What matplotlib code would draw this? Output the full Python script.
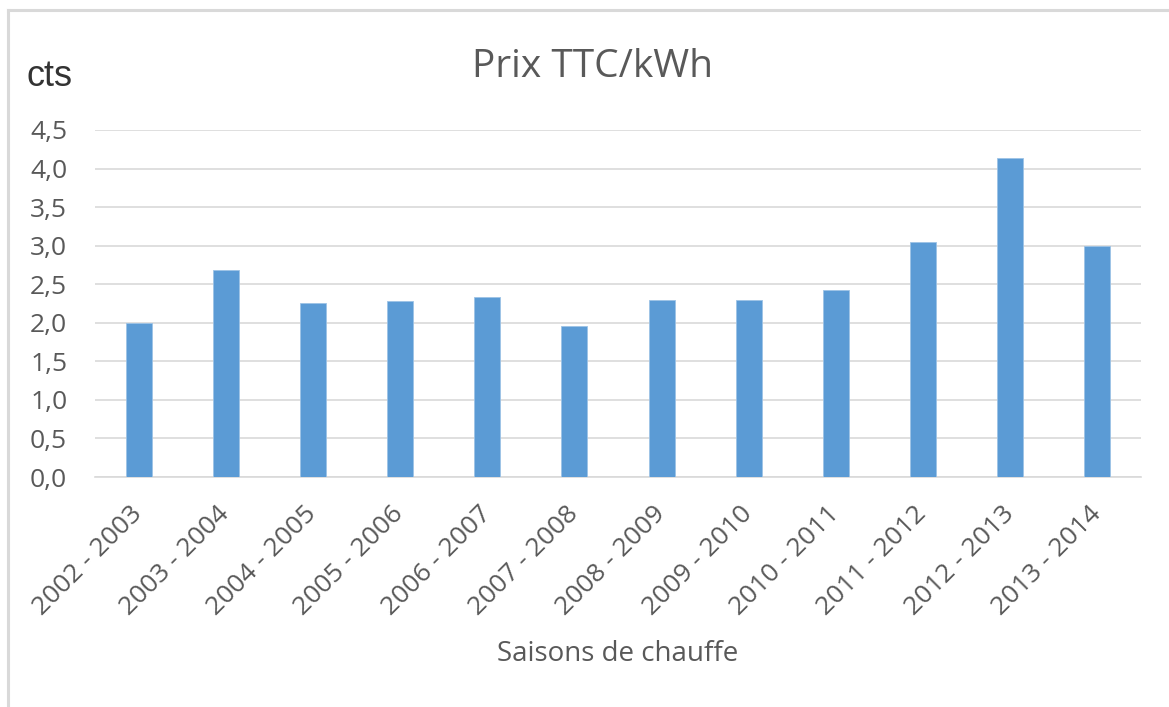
import matplotlib
matplotlib.use("Agg")
import matplotlib.pyplot as plt
from matplotlib.lines import Line2D

seasons = ["2002 - 2003", "2003 - 2004", "2004 - 2005", "2005 - 2006", "2006 - 2007",
           "2007 - 2008", "2008 - 2009", "2009 - 2010", "2010 - 2011", "2011 - 2012",
           "2012 - 2013", "2013 - 2014"]
prix = [2.00, 2.69, 2.26, 2.28, 2.34, 1.96, 2.29, 2.29, 2.43, 3.05, 4.14, 2.99]
yticks = [0.0, 0.5, 1.0, 1.5, 2.0, 2.5, 3.0, 3.5, 4.0, 4.5]
ytick_labels = ["0,0", "0,5", "1,0", "1,5", "2,0", "2,5", "3,0", "3,5", "4,0", "4,5"]

W, H = 1169, 707
fig = plt.figure(figsize=(W / 100, H / 100), dpi=100)
fig.patch.set_facecolor("white")

# outer chart border (left and top visible)
fig.lines.append(Line2D([7.5 / W, 7.5 / W], [0, 1 - 9.5 / H], transform=fig.transFigure,
                        color="#D9D9D9", linewidth=2.2))
fig.lines.append(Line2D([7.5 / W, 1], [1 - 9.5 / H, 1 - 9.5 / H], transform=fig.transFigure,
                        color="#D9D9D9", linewidth=2.2))

left, right, top, bottom = 95, 1141, 130, 477
ax = fig.add_axes([left / W, 1 - bottom / H, (right - left) / W, (bottom - top) / H])

x = list(range(len(seasons)))
ax.bar(x, prix, width=0.3, color="#5B9BD5", edgecolor="#9DC3E6", linewidth=0.6, zorder=3)
ax.set_xlim(-0.5, len(seasons) - 0.5)
ax.set_ylim(0, 4.5)
ax.set_yticks(yticks)
ax.set_yticklabels(ytick_labels, fontfamily="Open Sans", fontsize=19, color="#595959")
ax.set_xticks(x)
ax.set_xticklabels(seasons, rotation=45, ha="right", va="center", rotation_mode="anchor",
                   fontfamily="Open Sans", fontsize=19, color="#595959")
ax.tick_params(axis="both", length=0)
ax.tick_params(axis="y", pad=20)
ax.tick_params(axis="x", pad=24)
ax.grid(axis="y", color="#D9D9D9", linewidth=1.2, zorder=0)
for s in ["top", "right", "left"]:
    ax.spines[s].set_visible(False)
ax.spines["bottom"].set_color("#D9D9D9")
ax.spines["bottom"].set_linewidth(1.2)

fig.text(592 / W, 1 - 67 / H, "Prix TTC/kWh", ha="center", va="center",
         fontfamily="Open Sans", fontsize=28, color="#595959")
fig.text(26 / W, 1 - 76 / H, "cts", ha="left", va="center",
         fontfamily="Liberation Sans", fontsize=26, color="#333333")
fig.text(618 / W, 1 - 654 / H, "Saisons de chauffe", ha="center", va="center",
         fontfamily="Open Sans", fontsize=20, color="#595959")

fig.savefig("out.png", dpi=100, facecolor="white")
